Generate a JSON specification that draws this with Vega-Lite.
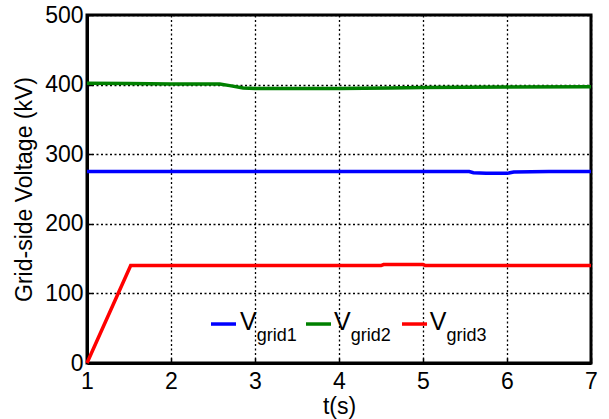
{
  "$schema": "https://vega.github.io/schema/vega-lite/v6.json",
  "width": 504,
  "height": 348,
  "autosize": {"type": "none"},
  "padding": {"left": 87, "top": 15, "right": 18, "bottom": 56},
  "background": "white",
  "config": {
    "font": "Liberation Sans",
    "view": {"stroke": "black", "strokeWidth": 3},
    "axis": {
      "labelFont": "Liberation Sans",
      "titleFont": "Liberation Sans",
      "labelFontSize": 23,
      "titleFontSize": 23,
      "titleFontWeight": "normal",
      "labelColor": "black",
      "titleColor": "black",
      "domainColor": "black",
      "domainWidth": 3,
      "tickColor": "black",
      "tickWidth": 1.5,
      "gridColor": "black",
      "gridOpacity": 1,
      "gridWidth": 1.3,
      "gridDash": [2, 2.5],
      "labelFlush": false,
      "labelOverlap": false
    }
  },
  "datasets": {
    "lines": [
      {"t": 1.0, "v": 275, "series": "grid1"},
      {"t": 2.0, "v": 275, "series": "grid1"},
      {"t": 3.0, "v": 275, "series": "grid1"},
      {"t": 4.0, "v": 275, "series": "grid1"},
      {"t": 5.0, "v": 275, "series": "grid1"},
      {"t": 5.55, "v": 275, "series": "grid1"},
      {"t": 5.6, "v": 273.5, "series": "grid1"},
      {"t": 5.75, "v": 272.5, "series": "grid1"},
      {"t": 6.0, "v": 272.5, "series": "grid1"},
      {"t": 6.08, "v": 274.5, "series": "grid1"},
      {"t": 6.5, "v": 275, "series": "grid1"},
      {"t": 7.0, "v": 275, "series": "grid1"},
      {"t": 1.0, "v": 402, "series": "grid2"},
      {"t": 1.5, "v": 401.5, "series": "grid2"},
      {"t": 2.0, "v": 401, "series": "grid2"},
      {"t": 2.58, "v": 401, "series": "grid2"},
      {"t": 2.7, "v": 398.5, "series": "grid2"},
      {"t": 2.86, "v": 395, "series": "grid2"},
      {"t": 3.0, "v": 394.5, "series": "grid2"},
      {"t": 4.0, "v": 394.5, "series": "grid2"},
      {"t": 4.6, "v": 395, "series": "grid2"},
      {"t": 5.0, "v": 396, "series": "grid2"},
      {"t": 6.0, "v": 396.5, "series": "grid2"},
      {"t": 7.0, "v": 397, "series": "grid2"},
      {"t": 1.0, "v": 0, "series": "grid3"},
      {"t": 1.52, "v": 140, "series": "grid3"},
      {"t": 2.0, "v": 140, "series": "grid3"},
      {"t": 3.0, "v": 140, "series": "grid3"},
      {"t": 4.0, "v": 140, "series": "grid3"},
      {"t": 4.5, "v": 140, "series": "grid3"},
      {"t": 4.53, "v": 141.5, "series": "grid3"},
      {"t": 5.0, "v": 141.5, "series": "grid3"},
      {"t": 5.03, "v": 140, "series": "grid3"},
      {"t": 6.0, "v": 140, "series": "grid3"},
      {"t": 7.0, "v": 140, "series": "grid3"}
    ],
    "legend": [
      {"series": "grid1", "x1": 2.476, "x2": 2.774, "y": 56, "vx": 2.82, "vy": 47.5, "sx": 3.02, "sy": 31.5, "sub": "grid1"},
      {"series": "grid2", "x1": 3.607, "x2": 3.905, "y": 56, "vx": 3.94, "vy": 47.5, "sx": 4.14, "sy": 31.5, "sub": "grid2"},
      {"series": "grid3", "x1": 4.75, "x2": 5.048, "y": 56, "vx": 5.08, "vy": 47.5, "sx": 5.28, "sy": 31.5, "sub": "grid3"}
    ]
  },
  "layer": [
    {
      "data": {"name": "lines"},
      "mark": {"type": "line", "strokeWidth": 3.5},
      "encoding": {
        "x": {
          "field": "t", "type": "quantitative",
          "scale": {"domain": [1, 7], "nice": false, "zero": false},
          "axis": {"title": "t(s)", "values": [1, 2, 3, 4, 5, 6, 7], "format": "d", "tickSize": -5, "labelPadding": 12, "titlePadding": 2, "grid": true}
        },
        "y": {
          "field": "v", "type": "quantitative",
          "scale": {"domain": [0, 500], "nice": false},
          "axis": {"title": "Grid-side Voltage (kV)", "values": [0, 100, 200, 300, 400, 500], "format": "d", "tickSize": -5, "labelPadding": 9, "titlePadding": 8, "grid": true}
        },
        "color": {
          "field": "series", "type": "nominal",
          "scale": {"domain": ["grid1", "grid2", "grid3"], "range": ["#0000FF", "#008000", "#FF0000"]},
          "legend": null
        }
      }
    },
    {
      "data": {"name": "legend"},
      "mark": {"type": "rule", "strokeWidth": 3.5},
      "encoding": {
        "x": {"field": "x1", "type": "quantitative"},
        "x2": {"field": "x2"},
        "y": {"field": "y", "type": "quantitative"},
        "color": {"field": "series", "type": "nominal", "legend": null}
      }
    },
    {
      "data": {"name": "legend"},
      "mark": {"type": "text", "text": "V", "fontSize": 25, "align": "left", "baseline": "alphabetic", "color": "black", "font": "Liberation Sans"},
      "encoding": {
        "x": {"field": "vx", "type": "quantitative"},
        "y": {"field": "vy", "type": "quantitative"}
      }
    },
    {
      "data": {"name": "legend"},
      "mark": {"type": "text", "fontSize": 18, "align": "left", "baseline": "alphabetic", "color": "black", "font": "Liberation Sans"},
      "encoding": {
        "x": {"field": "sx", "type": "quantitative"},
        "y": {"field": "sy", "type": "quantitative"},
        "text": {"field": "sub"}
      }
    }
  ]
}
